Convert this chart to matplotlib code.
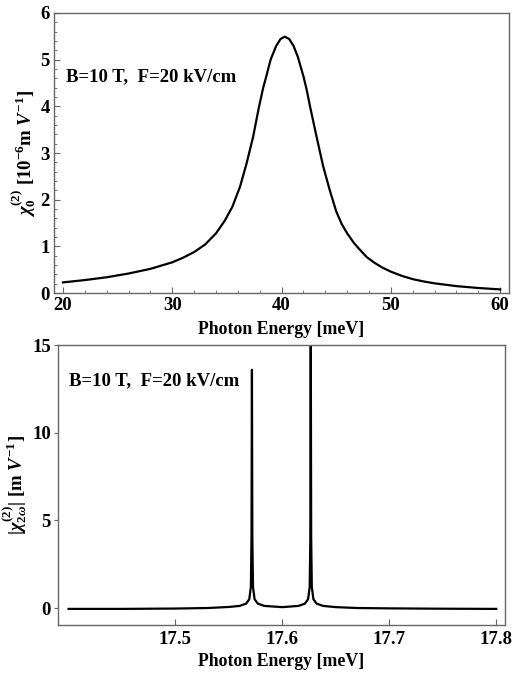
import matplotlib
matplotlib.use("Agg")
import matplotlib.pyplot as plt
from matplotlib.ticker import MultipleLocator

plt.rcParams['font.family'] = ['Liberation Serif', 'DejaVu Serif']
plt.rcParams['font.weight'] = 'bold'
plt.rcParams['mathtext.fontset'] = 'custom'
plt.rcParams['mathtext.rm'] = 'Liberation Serif:bold'
plt.rcParams['mathtext.bf'] = 'Liberation Serif:bold'
plt.rcParams['mathtext.it'] = 'Liberation Serif:italic:bold'
plt.rcParams['mathtext.default'] = 'it'

# top panel: chi_0^(2) vs photon energy
energy_top = [20, 22, 24, 26, 28, 30, 31, 32, 33, 34, 34.8, 35.5, 36.2, 36.8, 37.4,
              37.9, 38.3, 38.6, 39.0, 39.5, 39.9, 40.3, 40.7, 41.1, 41.5, 42.0,
              42.3, 42.6, 43.2, 43.8, 44.4, 45.0, 45.5, 46.0, 46.6, 47.2, 47.8,
              48.5, 49.2, 50, 51, 52, 53, 54, 55, 56, 58, 60]
chi0 = [0.23, 0.28, 0.34, 0.42, 0.52, 0.66, 0.76, 0.88, 1.04, 1.28, 1.55, 1.85, 2.28, 2.78, 3.35,
        3.95, 4.38, 4.64, 5.00, 5.29, 5.44, 5.49, 5.44, 5.29, 5.05, 4.64,
        4.35, 4.00, 3.35, 2.72, 2.21, 1.75, 1.48, 1.28, 1.08, 0.92, 0.77,
        0.65, 0.55, 0.46, 0.37, 0.30, 0.25, 0.21, 0.18, 0.15, 0.11, 0.08]

# bottom panel: |chi_2w^(2)| vs photon energy
energy_bot = [17.40, 17.45, 17.50, 17.53, 17.55, 17.560, 17.566, 17.569, 17.5705,
              17.5711, 17.5715, 17.5719, 17.5725, 17.574, 17.577, 17.583, 17.60,
              17.615, 17.621, 17.624, 17.6255, 17.6261, 17.6265, 17.6269, 17.6275,
              17.629, 17.632, 17.638, 17.65, 17.67, 17.70, 17.75, 17.80]
chi2w = [-0.05, -0.05, -0.03, 0.0, 0.06, 0.12, 0.25, 0.5, 1.2,
         4.0, 13.6, 4.0, 1.2, 0.5, 0.25, 0.12, 0.05,
         0.12, 0.25, 0.5, 1.2, 4.0, 16.5, 4.0, 1.2,
         0.5, 0.25, 0.12, 0.05, 0.0, -0.02, -0.04, -0.05]

label_text = "B=10 T,  F=20 kV/cm"
spine_col = '#666666'

fig = plt.figure(figsize=(5.12, 6.77), dpi=100)

ax1 = fig.add_axes([0.1055, 0.567, 0.8885, 0.414])
ax1.plot(energy_top, chi0, color='black', lw=1.6)
ax1.set_xlim(19.18, 60.8)
ax1.set_ylim(0, 6)
ax1.xaxis.set_major_locator(MultipleLocator(10))
ax1.xaxis.set_minor_locator(MultipleLocator(2))
ax1.yaxis.set_major_locator(MultipleLocator(1))
ax1.yaxis.set_minor_locator(MultipleLocator(0.2))
ax1.tick_params(which='both', direction='in', top=False, right=False,
                labelsize=13.5, color=spine_col, pad=3)
ax1.tick_params(which='major', length=4)
ax1.tick_params(which='minor', length=2.5)
ax1.text(20.3, 4.63, label_text, fontsize=13.5, fontweight='bold', va='center')
ax1.set_xlabel("Photon Energy [meV]", fontsize=12.8, fontweight='bold', labelpad=5)
ax1.set_ylabel(r"$\chi_0^{\mathrm{(2)}}$ $\mathrm{[10^{-6}m}$ $V^{-1}\mathrm{]}$", fontsize=13.5, labelpad=2)

ax2 = fig.add_axes([0.113, 0.0768, 0.873, 0.4132])
ax2.plot(energy_bot, chi2w, color='black', lw=1.6)
ax2.set_xlim(17.39, 17.808)
ax2.set_ylim(-0.97, 15)
ax2.set_xticks([17.5, 17.6, 17.7, 17.8])
ax2.set_yticks([0, 5, 10, 15])
ax2.tick_params(axis='x', direction='in', length=4, labelsize=13.5, color=spine_col, pad=4)
ax2.tick_params(axis='y', direction='out', length=3, labelsize=13.5, color=spine_col, pad=2)
ax2.text(17.40, 13.0, label_text, fontsize=13.5, fontweight='bold', va='center')
ax2.set_xlabel("Photon Energy [meV]", fontsize=12.8, fontweight='bold', labelpad=4)
ax2.set_ylabel(r"$|\chi_{\mathrm{2}\omega}^{\mathrm{(2)}}|$ $\mathrm{[m}$ $V^{-1}\mathrm{]}$", fontsize=13.5, labelpad=2)

for ax in (ax1, ax2):
    for sp in ax.spines.values():
        sp.set_color(spine_col)
        sp.set_linewidth(1.0)

fig.savefig("out.png", dpi=100)
